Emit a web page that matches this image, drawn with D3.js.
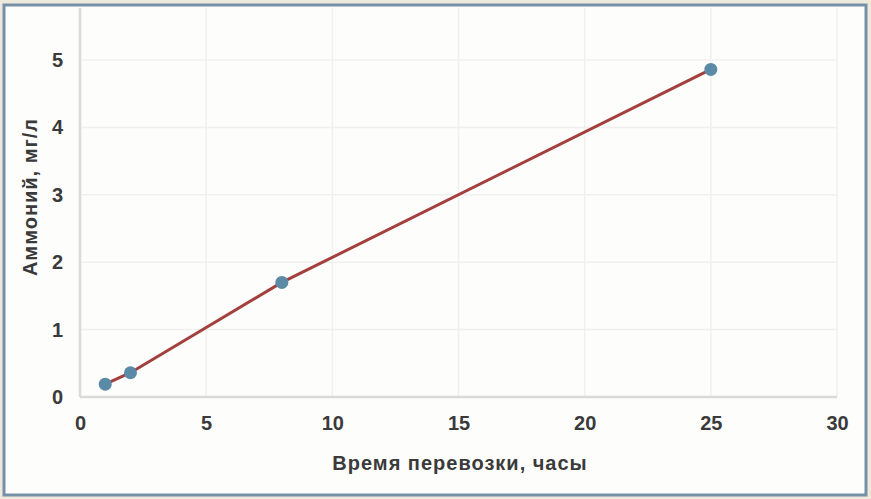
<!DOCTYPE html>
<html>
<head>
<meta charset="utf-8">
<script src="https://cdn.jsdelivr.net/npm/d3@7"></script>
<style>
    body { margin: 0; background: #efe9dc; }
    svg { display: block; }
</style>
</head>
<body>
<div id="chart"></div>
<script>
// transport time (hours) vs ammonium (mg/l)
const hours = [1, 2, 8, 25];
const ammonium = [0.19, 0.36, 1.7, 4.86];
const xTicks = [0, 5, 10, 15, 20, 25, 30];
const yTicks = [0, 1, 2, 3, 4, 5];
const xTitle = "Время перевозки, часы";
const yTitle = "Аммоний, мг/л";

const width = 871, height = 499;
const plot = {left: 80, right: 837, top: 8, bottom: 397};
const font = "Liberation Sans, Arial, sans-serif";

const svg = d3.select("#chart").append("svg")
        .attr("width", width)
        .attr("height", height);

// frame
svg.append("rect")
        .attr("x", 4).attr("y", 5)
        .attr("width", 862).attr("height", 490)
        .attr("fill", "#fdfdfc")
        .attr("stroke", "#7591a8")
        .attr("stroke-width", 3);

const x = d3.scaleLinear().domain([0, 30]).range([plot.left, plot.right]);
const y = d3.scaleLinear().domain([0, 5]).range([plot.bottom, 60]);

// faint grid
const grid = svg.append("g").attr("stroke", "#f0f0ef").attr("stroke-width", 1.5);
grid.selectAll("line.v")
        .data(xTicks.slice(1))
        .join("line")
        .attr("x1", d => x(d)).attr("x2", d => x(d))
        .attr("y1", plot.top).attr("y2", plot.bottom);
grid.selectAll("line.h")
        .data(yTicks.slice(1))
        .join("line")
        .attr("x1", plot.left).attr("x2", plot.right)
        .attr("y1", d => y(d)).attr("y2", d => y(d));

// axes
const xAxis = svg.append("g")
        .attr("transform", `translate(0,${plot.bottom})`)
        .call(d3.axisBottom(x).tickValues(xTicks).tickFormat(d3.format("d"))
                .tickSize(0).tickPadding(19));
const yAxis = svg.append("g")
        .attr("transform", `translate(${plot.left},0)`)
        .call(d3.axisLeft(y).tickValues(yTicks).tickFormat(d3.format("d"))
                .tickSize(0).tickPadding(17));
[xAxis, yAxis].forEach(function(a) {
    a.select(".domain").attr("stroke", "#dadada").attr("stroke-width", 2.5);
    a.selectAll("text")
            .attr("font-family", font)
            .attr("font-size", 20)
            .attr("font-weight", "bold")
            .attr("fill", "#3a3a3a");
});
yAxis.select(".domain").attr("d", `M0,${plot.bottom}V${plot.top}`);
xAxis.select(".domain").attr("d", `M${plot.left},0H${plot.right}`);

// titles
svg.append("text")
        .text(xTitle)
        .attr("x", 460).attr("y", 470)
        .attr("text-anchor", "middle")
        .attr("font-family", font)
        .attr("font-size", 20)
        .attr("font-weight", "bold")
        .attr("letter-spacing", 1)
        .attr("fill", "#3a3a3a");
svg.append("text")
        .text(yTitle)
        .attr("transform", "translate(37,197) rotate(-90)")
        .attr("text-anchor", "middle")
        .attr("font-family", font)
        .attr("font-size", 20)
        .attr("font-weight", "bold")
        .attr("letter-spacing", 1)
        .attr("fill", "#3a3a3a");

// data
const pts = hours.map((h, i) => [h, ammonium[i]]);
svg.append("path")
        .datum(pts)
        .attr("d", d3.line().x(d => x(d[0])).y(d => y(d[1])))
        .attr("fill", "none")
        .attr("stroke", "#a3403d")
        .attr("stroke-width", 3);
svg.selectAll("circle.pt")
        .data(pts)
        .join("circle")
        .attr("class", "pt")
        .attr("cx", d => x(d[0])).attr("cy", d => y(d[1]))
        .attr("r", 6.5)
        .attr("fill", "#5a8aa6");
</script>
</body>
</html>
